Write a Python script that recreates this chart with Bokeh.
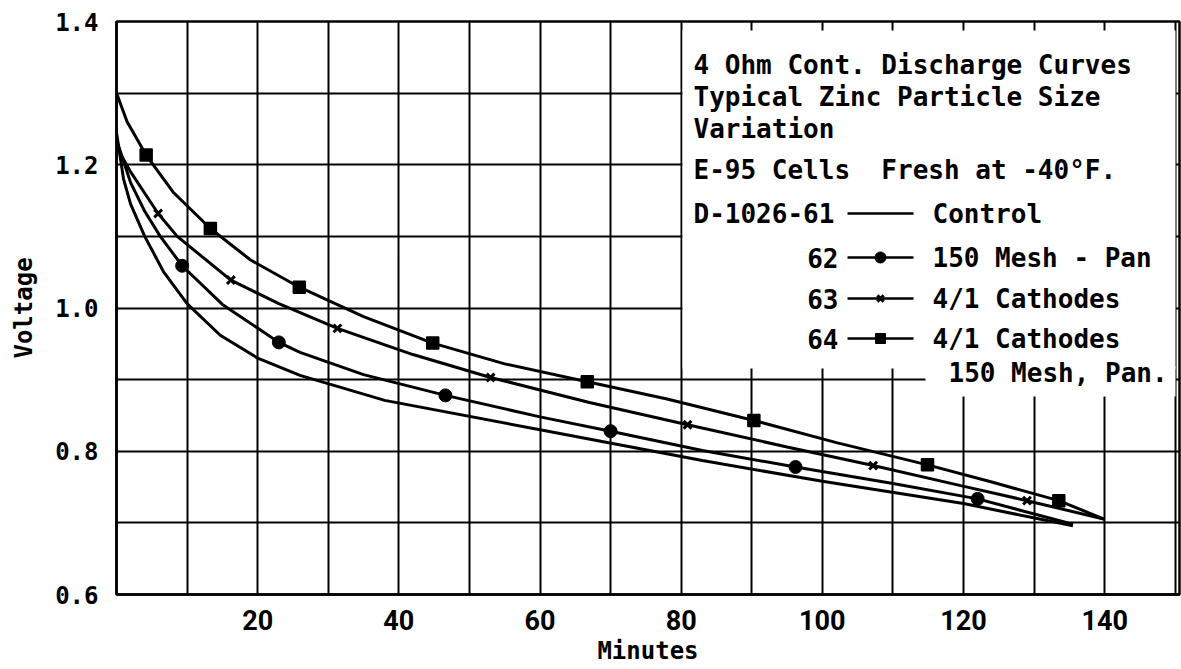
from bokeh.plotting import figure
from bokeh.models import FixedTicker, BoxAnnotation, PrintfTickFormatter, Range1d
from bokeh.core.properties import value
from bokeh.embed import file_html
from bokeh.resources import INLINE

# ---------------- data ----------------
minutes_61 = [0, 1, 2, 4, 6.7, 10, 14.7, 20, 26, 38, 60, 83, 100, 120, 135.5]
volts_61 = [1.245, 1.18, 1.145, 1.10, 1.05, 1.006, 0.962, 0.93, 0.906, 0.871, 0.830, 0.787, 0.758, 0.727, 0.696]

minutes_62 = [0, 2, 4, 6.2, 9.3, 15, 23, 26, 35, 46.6, 60, 70, 83, 96.2, 110, 122, 135.5]
volts_62 = [1.235, 1.175, 1.135, 1.10, 1.059, 1.005, 0.952, 0.938, 0.907, 0.878, 0.848, 0.828, 0.801, 0.778, 0.755, 0.7335, 0.698]
marker_minutes_62 = [9.3, 23, 46.6, 70, 96.2, 122]
marker_volts_62 = [1.059, 0.952, 0.878, 0.828, 0.778, 0.7335]

minutes_63 = [0, 2, 5.9, 8.6, 16.2, 23, 31.3, 42, 53, 67, 80.9, 95, 107.2, 119.6, 129, 140]
volts_63 = [1.225, 1.19, 1.132, 1.10, 1.039, 1.006, 0.9716, 0.935, 0.903, 0.868, 0.837, 0.806, 0.780, 0.752, 0.731, 0.705]
marker_minutes_63 = [5.9, 16.2, 31.3, 53, 80.9, 107.2, 129]
marker_volts_63 = [1.132, 1.039, 0.9716, 0.903, 0.837, 0.780, 0.731]

minutes_64 = [0, 1.5, 4.2, 8, 13.3, 19, 25.9, 35, 44.8, 55, 66.7, 78, 90.3, 102, 114.9, 124, 133.5, 140]
volts_64 = [1.30, 1.26, 1.2135, 1.162, 1.111, 1.067, 1.029, 0.988, 0.951, 0.922, 0.897, 0.873, 0.843, 0.812, 0.781, 0.757, 0.731, 0.705]
marker_minutes_64 = [4.2, 13.3, 25.9, 44.8, 66.7, 90.3, 114.9, 133.5]
marker_volts_64 = [1.2135, 1.111, 1.029, 0.951, 0.897, 0.843, 0.781, 0.731]

x_tick_values = [20, 40, 60, 80, 100, 120, 140]
y_tick_values = [0.6, 0.8, 1.0, 1.2, 1.4]
x_grid_values = [0, 10, 20, 30, 40, 50, 60, 70, 80, 90, 100, 110, 120, 130, 140, 150]
y_grid_values = [0.6, 0.7, 0.8, 0.9, 1.0, 1.1, 1.2, 1.3, 1.4]

title_lines = ["4 Ohm Cont. Discharge Curves",
               "Typical Zinc Particle Size",
               "Variation",
               "E-95 Cells \u00a0Fresh at -40\u00b0F."]
legend_codes = ["D-1026-61", "62", "63", "64"]
legend_names = ["Control", "150 Mesh - Pan", "4/1 Cathodes", "4/1 Cathodes"]
legend_extra = "150 Mesh, Pan."

# ---------------- layout ----------------
W, H = 1181, 669
FL, FR, FT, FB = 116, 1179, 21, 594
X0, X1 = 0.0, 150.6
Y0, Y1 = 0.6, 1.4


def dx(px):
    return X0 + (px - FL) / (FR - FL) * (X1 - X0)


def dy(py):
    return Y1 - (py - FT) / (FB - FT) * (Y1 - Y0)


MONO = "DejaVu Sans Mono"

p = figure(width=W, height=H, x_range=Range1d(X0, X1), y_range=Range1d(Y0, Y1),
           min_border_left=FL, min_border_right=W - FR, min_border_top=FT,
           min_border_bottom=H - FB, output_backend="svg", toolbar_location=None,
           background_fill_color="white", border_fill_color="white")

p.outline_line_color = "black"
p.outline_line_width = 2.5

for g, ticks in ((p.xgrid, x_grid_values), (p.ygrid, y_grid_values)):
    g.ticker = FixedTicker(ticks=ticks)
    g.grid_line_color = "black"
    g.grid_line_width = 2
    g.grid_line_alpha = 1.0

p.xaxis.ticker = FixedTicker(ticks=x_tick_values)
p.yaxis.ticker = FixedTicker(ticks=y_tick_values)
p.yaxis.formatter = PrintfTickFormatter(format="%.1f")
for ax in (p.xaxis, p.yaxis):
    ax.major_tick_in = 0
    ax.major_tick_out = 0
    ax.minor_tick_in = 0
    ax.minor_tick_out = 0
    ax.axis_line_width = 2.5
    ax.axis_line_color = "black"
    ax.major_label_text_color = "black"
    ax.major_label_text_font_style = "bold"
    ax.axis_label_text_font = MONO
    ax.axis_label_text_font_style = "bold"
    ax.axis_label_text_color = "black"

p.xaxis.major_label_text_font = "Roboto"
p.xaxis.major_label_text_font_size = "27px"
p.xaxis.major_label_standoff = 15
p.xaxis.axis_label = "Minutes"
p.xaxis.axis_label_text_font_size = "24px"
p.xaxis.axis_label_standoff = 4

p.yaxis.major_label_text_font = MONO
p.yaxis.major_label_text_font_size = "24px"
p.yaxis.major_label_standoff = 18
p.yaxis.axis_label = "Voltage"
p.yaxis.axis_label_text_font_size = "24px"
p.yaxis.axis_label_standoff = 14

# white area where the legend text sits (covers the grid there)
p.add_layout(BoxAnnotation(left=dx(FL + 566), right=dx(FR - 4), bottom=dy(368), top=dy(FT + 9),
                           fill_color="white", fill_alpha=1.0, line_alpha=0, level="underlay"))
p.add_layout(BoxAnnotation(left=dx(925), right=dx(FR - 4), bottom=dy(396), top=dy(366),
                           fill_color="white", fill_alpha=1.0, line_alpha=0, level="underlay"))

# ---------------- curves ----------------
LW = 3
p.line(minutes_61, volts_61, line_color="black", line_width=LW)
p.line(minutes_62, volts_62, line_color="black", line_width=LW)
p.line(minutes_63, volts_63, line_color="black", line_width=LW)
p.line(minutes_64, volts_64, line_color="black", line_width=LW)

p.scatter(marker_minutes_62, marker_volts_62, marker="circle", size=13,
          fill_color="black", line_color="black")
p.scatter(marker_minutes_63, marker_volts_63, marker="x", size=11,
          line_color="black", line_width=3)
p.scatter(marker_minutes_64, marker_volts_64, marker="square", size=12,
          fill_color="black", line_color="black", line_width=1.5)

# ---------------- legend block ----------------
FS = "26px"
title_y = [64, 96, 128, 169]
p.text(x=[dx(693)] * len(title_lines), y=[dy(v) for v in title_y], text=title_lines,
       text_font=value(MONO), text_font_style="bold", text_font_size=FS,
       text_color="black", text_align="left", text_baseline="middle")

row_y = [213, 257, 298, 338]
p.text(x=[dx(693)], y=[dy(row_y[0])], text=[legend_codes[0]],
       text_font=value(MONO), text_font_style="bold", text_font_size=FS,
       text_color="black", text_align="left", text_baseline="middle")
p.text(x=[dx(838)] * 3, y=[dy(v) for v in row_y[1:]], text=legend_codes[1:],
       text_font=value(MONO), text_font_style="bold", text_font_size=FS,
       text_color="black", text_align="right", text_baseline="middle")
p.text(x=[dx(932)] * 4, y=[dy(v) for v in row_y], text=legend_names,
       text_font=value(MONO), text_font_style="bold", text_font_size=FS,
       text_color="black", text_align="left", text_baseline="middle")
p.text(x=[dx(948)], y=[dy(372)], text=[legend_extra],
       text_font=value(MONO), text_font_style="bold", text_font_size=FS,
       text_color="black", text_align="left", text_baseline="middle")

p.segment(x0=[dx(847)] * 4, y0=[dy(v) for v in row_y], x1=[dx(913)] * 4, y1=[dy(v) for v in row_y],
          line_color="black", line_width=2.5)
p.scatter([dx(880)], [dy(row_y[1])], marker="circle", size=11, fill_color="black", line_color="black")
p.scatter([dx(880)], [dy(row_y[2])], marker="x", size=9, line_color="black", line_width=3)
p.scatter([dx(880)], [dy(row_y[3])], marker="square", size=10, fill_color="black", line_color="black")

open("out.html", "w").write(file_html(p, INLINE))
